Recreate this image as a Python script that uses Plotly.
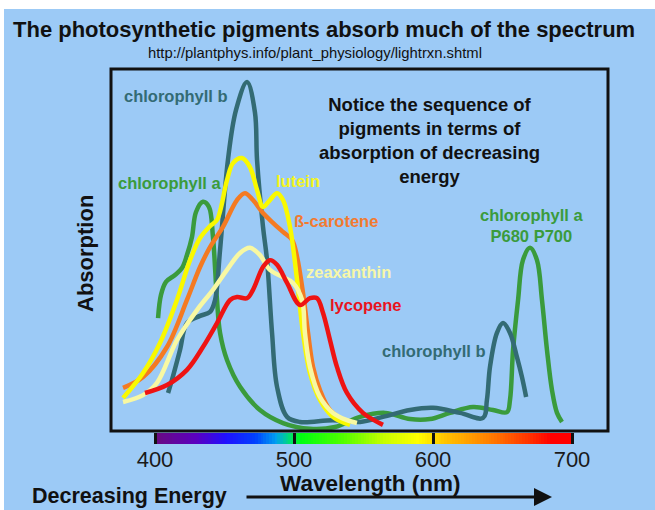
import plotly.graph_objects as go

# ---------------- data ----------------
chl_b_nm = [409.4, 412.2, 418, 423, 432.4, 439.6, 443.2, 446.8, 452.5, 458.3, 466.2, 471.9, 473.4, 477.7,
            480.6, 484.2, 487.8, 495, 504.3, 528, 547.5, 564, 583.5, 600, 619.4, 636, 638.8, 641, 646,
            650.4, 655.4, 660.4, 664, 667]
chl_b_abs = [0.105, 0.141, 0.224, 0.298, 0.318, 0.329, 0.362, 0.50, 0.749, 0.887, 0.964, 0.88, 0.749, 0.564,
             0.472, 0.271, 0.122, 0.039, 0.025, 0.030, 0.025, 0.039, 0.058, 0.064, 0.050, 0.036, 0.086,
             0.177, 0.271, 0.298, 0.271, 0.204, 0.149, 0.094]

chl_a_nm = [402.2, 404.3, 407.9, 414.4, 419.4, 423, 426.6, 429.5, 434.5, 438.8, 441.7, 444.6, 446.8, 451.8,
            461.2, 475.5, 492.1, 511.5, 529.5, 547.5, 565.5, 583.5, 597.8, 612.2, 628.8, 643.2, 653.2,
            655.4, 657.6, 661.2, 664.7, 669.8, 674.8, 678.4, 682, 685.6, 689.2, 692.8]
chl_a_abs = [0.312, 0.376, 0.412, 0.431, 0.450, 0.486, 0.536, 0.605, 0.633, 0.619, 0.536, 0.362, 0.271, 0.196,
             0.122, 0.058, 0.022, 0.006, 0.011, 0.039, 0.050, 0.033, 0.033, 0.050, 0.066, 0.058, 0.052,
             0.086, 0.224, 0.362, 0.472, 0.506, 0.472, 0.362, 0.224, 0.113, 0.050, 0.025]

lutein_nm = [377, 391.4, 403.6, 415.8, 425.2, 432.4, 439.6, 444.6, 451.8, 456.1, 462.6, 468.3, 473.4, 477.7,
             482.7, 487.8, 492.1, 497.1, 502.2, 506.5, 511.5, 518.7, 528.1, 540.3]
lutein_abs = [0.091, 0.160, 0.243, 0.362, 0.472, 0.533, 0.566, 0.583, 0.693, 0.740, 0.754, 0.729, 0.666,
              0.619, 0.638, 0.657, 0.638, 0.564, 0.417, 0.271, 0.160, 0.086, 0.039, 0.017]

carotene_nm = [377, 391.4, 408.6, 423, 432.4, 439.6, 448.9, 459, 464.7, 470.5, 477.7, 484.9, 492.1, 498.6,
               502.2, 506.5, 510.1, 513.7, 518.7, 525.9, 535.3]
carotene_abs = [0.119, 0.149, 0.232, 0.362, 0.453, 0.508, 0.564, 0.638, 0.657, 0.638, 0.602, 0.575, 0.550,
                0.528, 0.481, 0.381, 0.271, 0.177, 0.113, 0.058, 0.030]

zeax_nm = [377, 391.4, 401.4, 415.8, 430.2, 441.7, 451.8, 461.2, 468.3, 475.5, 482.7, 492.1, 499.3, 505.8,
           507.9, 511.5, 518.7, 528.1, 538.1, 545.3]
zeax_abs = [0.080, 0.099, 0.133, 0.251, 0.334, 0.390, 0.445, 0.492, 0.506, 0.486, 0.445, 0.425, 0.409,
            0.362, 0.271, 0.177, 0.094, 0.050, 0.030, 0.022]

lyco_nm = [392.8, 408.6, 423, 434.5, 444.6, 454, 459, 466.2, 470.5, 477.7, 482.7, 487.8, 495, 504.3, 511.5,
           516.5, 520.9, 525.9, 530.9, 538.1, 549.6, 564]
lyco_abs = [0.105, 0.127, 0.169, 0.232, 0.298, 0.362, 0.370, 0.367, 0.390, 0.453, 0.472, 0.459, 0.409,
            0.348, 0.367, 0.367, 0.326, 0.251, 0.177, 0.105, 0.050, 0.017]

tick_vals = [400, 500, 600, 700]
spectrum_edges = list(range(400, 701, 2))

# ---------------- styling ----------------
BG = "#9ccaf6"
FONT = "Liberation Sans, Arial, sans-serif"
C_CHLB = "#336b74"
C_CHLA = "#3a9b3c"
C_LUT = "#f9f900"
C_CAR = "#f47a22"
C_ZEA = "#f8f8a2"
C_LYC = "#ee1313"

# plot area pixels: x 111..608, y 69..444 (frame bottom at 431)
L, R, T, B = 111, 608, 69, 444
W_IMG, H_IMG = 655, 510


def xp(px):
    return (px - L) / (R - L)


def yp(py):
    return (B - py) / (B - T)


fig = go.Figure()

# spectrum bar (heatmap on secondary y axis)
mids = [(a + b) / 2 for a, b in zip(spectrum_edges[:-1], spectrum_edges[1:])]
spec_scale = [
    [0.00, "#6a0a80"], [0.10, "#5a00c0"], [0.17, "#2010ff"], [0.24, "#0040ff"],
    [0.29, "#00a0f0"], [0.325, "#00e070"], [0.35, "#00ff10"], [0.45, "#50ff00"],
    [0.55, "#c8ff00"], [0.63, "#ffff00"], [0.70, "#ffc000"], [0.80, "#ff8000"],
    [0.90, "#ff3000"], [0.95, "#ff0000"], [1.00, "#ff0000"],
]
fig.add_trace(go.Heatmap(x=spectrum_edges, y=[0, 1], z=[mids], xaxis="x", yaxis="y2",
                         colorscale=spec_scale, zmin=400, zmax=700, showscale=False,
                         hoverinfo="skip"))

series = [
    (chl_a_nm, chl_a_abs, C_CHLA, "chlorophyll a"),
    (chl_b_nm, chl_b_abs, C_CHLB, "chlorophyll b"),
    (carotene_nm, carotene_abs, C_CAR, "ß-carotene"),
    (lutein_nm, lutein_abs, C_LUT, "lutein"),
    (zeax_nm, zeax_abs, C_ZEA, "zeaxanthin"),
    (lyco_nm, lyco_abs, C_LYC, "lycopene"),
]
for xs, ys, col, name in series:
    fig.add_trace(go.Scatter(x=xs, y=ys, mode="lines", name=name,
                             line=dict(color=col, width=4.5, shape="spline", smoothing=1.0),
                             xaxis="x", yaxis="y"))

x0 = 400 + (L - 155) / 1.39
x1 = 400 + (R - 155) / 1.39

fig.update_layout(
    width=W_IMG, height=H_IMG,
    paper_bgcolor=BG, plot_bgcolor=BG,
    margin=dict(l=L, r=W_IMG - R, t=T, b=H_IMG - B, pad=0),
    showlegend=False,
    font=dict(family=FONT, color="#111"),
    xaxis=dict(range=[x0, x1], anchor="y2", showgrid=False, zeroline=False, showline=False,
               tickvals=tick_vals, ticks="inside", ticklen=11, tickwidth=2.5, tickcolor="#111",
               tickfont=dict(size=22, color="#1a1a1a", family=FONT)),
    yaxis=dict(domain=[(B - 431) / (B - T), 1], range=[0, 1], showgrid=False, zeroline=False,
               showticklabels=False, ticks="", showline=False),
    yaxis2=dict(domain=[0, (B - 433) / (B - T)], range=[0, 1], showgrid=False, zeroline=False,
                showticklabels=False, ticks="", showline=False),
)

shapes = [
    # white strips at top and left of the image
    dict(type="rect", xref="paper", yref="paper", x0=xp(0), x1=xp(W_IMG), y0=yp(9), y1=yp(0),
         fillcolor="white", line=dict(width=0), layer="below"),
    dict(type="rect", xref="paper", yref="paper", x0=xp(0), x1=xp(4), y0=yp(H_IMG), y1=yp(0),
         fillcolor="white", line=dict(width=0), layer="below"),
    # frame
    dict(type="rect", xref="paper", yref="y domain", x0=0, x1=1, y0=0, y1=1,
         line=dict(color="#111", width=3), layer="above"),
]
fig.update_layout(shapes=shapes)


def label(text, px, py, color, size=16.5, xanchor="center"):
    fig.add_annotation(text=text, xref="paper", yref="paper", x=xp(px), y=yp(py),
                       xanchor=xanchor, yanchor="middle", showarrow=False,
                       font=dict(size=size, color=color, family=FONT))


label("<b>The photosynthetic pigments absorb much of the spectrum</b>", 11, 30, "#111", size=22.0, xanchor="left")
label("http://plantphys.info/plant_physiology/lightrxn.shtml", 315, 53, "#111", size=14.8)

label("<b>chlorophyll b</b>", 176, 96, C_CHLB)
label("<b>chlorophyll a</b>", 170, 183, C_CHLA)
label("<b>lutein</b>", 298, 181, "#f5f520")
label("<b>ß-carotene</b>", 336, 221, "#f27a30")
label("<b>zeaxanthin</b>", 348, 272, "#f7f7a8")
label("<b>lycopene</b>", 366, 305, "#e8141e")
label("<b>chlorophyll b</b>", 434, 351, C_CHLB)
label("<b>chlorophyll a<br>P680 P700</b>", 532, 225, C_CHLA)
label("<b>Notice the sequence of<br>pigments in terms of<br>absorption of decreasing<br>energy</b>",
      429, 140, "#111", size=18.5)

fig.add_annotation(text="<b>Absorption</b>", xref="paper", yref="paper", x=xp(86), y=yp(254),
                   textangle=-90, showarrow=False, xanchor="center", yanchor="middle",
                   font=dict(size=22, color="#111", family=FONT))
label("<b>Wavelength (nm)</b>", 370, 483, "#111", size=22.5)
label("<b>Decreasing Energy</b>", 30, 496, "#111", size=21.5, xanchor="left")

# arrow (tail offset given in pixels)
fig.add_annotation(text="", xref="paper", yref="paper", x=xp(552), y=yp(497),
                   ax=-(552 - 245), ay=0, axref="pixel", ayref="pixel",
                   showarrow=True, arrowhead=2, arrowsize=1.2, arrowwidth=3, arrowcolor="#111")

fig.write_html("out.html", config={"displayModeBar": False},
               post_script="document.body.style.margin='0px';document.body.style.overflow='hidden';")
